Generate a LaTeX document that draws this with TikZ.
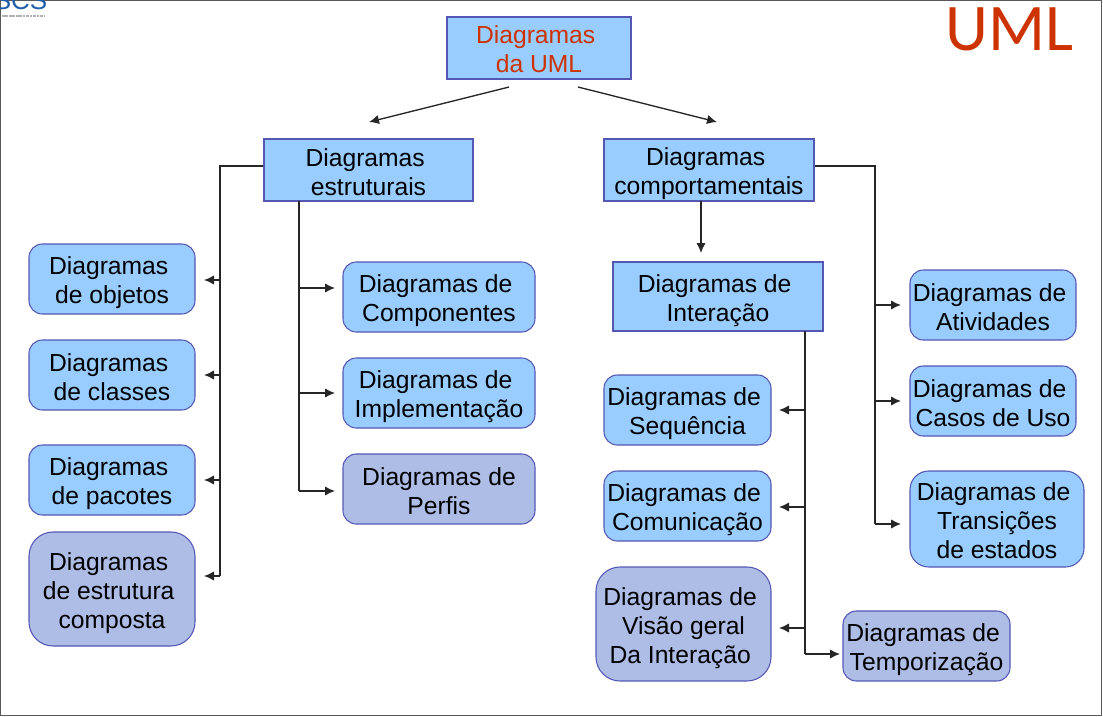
\documentclass[tikz,border=0pt]{standalone}
\usepackage{fontspec}
\setmainfont{Liberation Sans}
\newfontfamily\titlefont{Carlito}
\usetikzlibrary{arrows.meta}
\definecolor{boxblue}{HTML}{99CCFF}
\definecolor{boxlilac}{HTML}{ADBDE6}
\definecolor{boxline}{HTML}{5557B5}
\definecolor{titlered}{HTML}{CC3300}
\definecolor{logoblue}{HTML}{1F5FA8}
\newcommand{\folga}{\kern5pt}
\newcommand{\topo}{\rule{0pt}{19.5pt}}
\tikzset{
	diagbox/.style={draw=boxline,line width=0.8pt,fill=boxblue,inner sep=0pt,align=center,
		font=\fontsize{18.5}{21.75}\selectfont,
		execute at end node={\rule[-3.75pt]{0pt}{3.75pt}}},
	roundbox/.style={diagbox,rounded corners=10pt},
	lilacbox/.style={roundbox,fill=boxlilac},
	bigbox/.style={lilacbox,rounded corners=18pt},
	link/.style={line width=1pt,draw=black!85},
	branch/.style={link,-{Latex[length=7.5pt,width=7pt]}}
}
\begin{document}
\begin{tikzpicture}[x=0.75pt,y=-0.75pt]
	\useasboundingbox (0,0) rectangle (1103,717);
	\draw[line width=1.2pt,draw=black!65] (0.5,0.5) rectangle (1101.5,715.5);
	% logo, cut off by the page
	\node[text=logoblue,font=\fontsize{19.5}{20}\selectfont,anchor=base west,inner sep=0pt] (logo) at (-6.5,10) {SCS};
	\draw[line width=2pt,draw=black!30,dash pattern=on 2pt off 0.6pt] (2,16) -- (45,16);
	\node[text=titlered,font=\titlefont\fontsize{50}{50}\selectfont,anchor=base east,inner sep=0pt] (title) at (1074,50.5) {UML};

	\node[diagbox,minimum width=138pt,minimum height=46.5pt,text=titlered] (raiz) at (539,48) {\topo Diagramas\folga\\da UML};
	\node[diagbox,minimum width=156.75pt,minimum height=46.5pt] (estruturais) at (368.5,170) {\topo Diagramas\folga\\estruturais};
	\node[diagbox,minimum width=157.5pt,minimum height=46.5pt] (comportamentais) at (709,170) {\topo Diagramas\folga\\comportamentais};
	\node[diagbox,minimum width=157.5pt,minimum height=51.75pt] (interacao) at (718,296.5) {\topo Diagramas de\folga\\Interação};

	\node[roundbox,minimum width=124.5pt,minimum height=52.5pt] (objetos) at (112,279) {\topo Diagramas\folga\\de objetos};
	\node[roundbox,minimum width=124.5pt,minimum height=52.5pt] (classes) at (112,375) {\topo Diagramas\folga\\de classes};
	\node[roundbox,minimum width=124.5pt,minimum height=52.5pt] (pacotes) at (112,480) {\topo Diagramas\folga\\de pacotes};
	\node[bigbox,minimum width=124.5pt,minimum height=85.5pt] (composta) at (112,589) {\topo Diagramas\folga\\de estrutura\folga\\composta};

	\node[roundbox,minimum width=144pt,minimum height=52.5pt] (componentes) at (439,297) {\topo Diagramas de\folga\\Componentes};
	\node[roundbox,minimum width=144pt,minimum height=52.5pt] (implementacao) at (439,393) {\topo Diagramas de\folga\\Implementação};
	\node[lilacbox,minimum width=144pt,minimum height=52.5pt] (perfis) at (439,489) {\topo Diagramas de\\Perfis};

	\node[roundbox,minimum width=125.25pt,minimum height=52.5pt] (sequencia) at (687.5,410) {\topo Diagramas de\folga\\Sequência};
	\node[roundbox,minimum width=125.25pt,minimum height=52.5pt] (comunicacao) at (687.5,506) {\topo Diagramas de\folga\\Comunicação};
	\node[bigbox,minimum width=131.25pt,minimum height=85.5pt] (visao) at (683.5,624) {\topo Diagramas de\folga\\Visão geral\\Da Interação\folga};
	\node[lilacbox,minimum width=125.25pt,minimum height=52.5pt] (temporizacao) at (926.5,646) {\topo Diagramas de\folga\\Temporização};

	\node[roundbox,minimum width=124.5pt,minimum height=52.5pt] (atividades) at (993,305) {\topo Diagramas de\folga\\Atividades};
	\node[roundbox,minimum width=124.5pt,minimum height=52.5pt] (casos) at (993,401) {\topo Diagramas de\folga\\Casos de Uso};
	\node[roundbox,rounded corners=14pt,minimum width=130.5pt,minimum height=72pt] (transicoes) at (997,519) {\topo Diagramas de\folga\\Transições\\de estados};

	% free ends of the connectors
	\coordinate (raizA) at (509,87);
	\coordinate (raizB) at (578,87);
	\coordinate (alvoA) at (369,122);
	\coordinate (alvoB) at (717,122);
	\coordinate (esqA) at (220,166);
	\coordinate (esqB) at (299,201);
	\coordinate (dirA) at (875,166);
	\coordinate (desceA) at (701,201);
	\coordinate (desceB) at (701,253);
	\coordinate (interA) at (805,331);

	\draw[branch] (raizA) -- (alvoA);
	\draw[branch] (raizB) -- (alvoB);
	\draw[branch] (desceA) -- (desceB);

	\draw[link] (estruturais.west |- esqA) -- (esqA) -- (esqA |- 0,576);
	\draw[branch] (esqA |- 0,280) -- (204,280);
	\draw[branch] (esqA |- 0,375) -- (204,375);
	\draw[branch] (esqA |- 0,480) -- (204,480);
	\draw[branch] (esqA |- 0,576) -- (204,576);

	\draw[link] (esqB) -- (esqB |- 0,491);
	\draw[branch] (esqB |- 0,288) -- (335,288);
	\draw[branch] (esqB |- 0,393) -- (335,393);
	\draw[branch] (esqB |- 0,491) -- (335,491);

	\draw[link] (comportamentais.east |- dirA) -- (dirA) -- (dirA |- 0,524);
	\draw[branch] (dirA |- 0,305) -- (901,305);
	\draw[branch] (dirA |- 0,401) -- (901,401);
	\draw[branch] (dirA |- 0,524) -- (901,524);

	\draw[link] (interA) -- (interA |- 0,654);
	\draw[branch] (interA |- 0,410) -- (779,410);
	\draw[branch] (interA |- 0,507) -- (779,507);
	\draw[branch] (interA |- 0,628) -- (779,628);
	\draw[branch] (interA |- 0,654) -- (840,654);
\end{tikzpicture}
\end{document}
